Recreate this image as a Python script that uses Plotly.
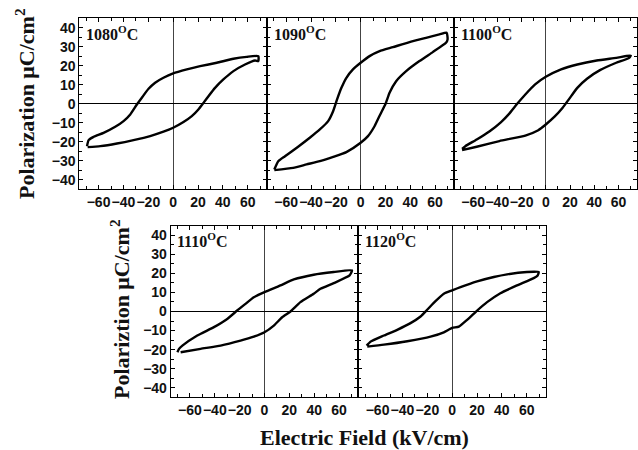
import plotly.graph_objects as go

# ---- data (E in kV/cm, P in uC/cm^2); each loop = ascending branch then descending branch
labels = ["1080", "1090", "1100", "1110", "1120"]

e1080_lo = [-68.8, -58.6, -45.2, -31.9, -18.5, -7.8, 0, 8.3, 15, 20.3, 24.4, 28.4, 33.7, 40.4, 48.5, 57.8, 65.9, 68.5]
p1080_lo = [-22.8, -22.3, -20.9, -19.1, -17, -14.7, -12.6, -9.6, -6.5, -3, 0.5, 4, 8.4, 12.8, 17.2, 20.7, 22.8, 22.5]
e1080_up = [68.5, 59.2, 48.5, 35.1, 21.7, 11, 0, -7.8, -14.5, -19.8, -25.2, -29.2, -34.5, -39.9, -46.6, -56, -64, -68, -69.3]
p1080_up = [25.1, 24.7, 23.7, 21.6, 19.8, 18.1, 16, 13.7, 11.1, 7.9, 3.2, -0.4, -5.6, -9.1, -12.1, -15.3, -17.4, -19.1, -22.3]

e1090_lo = [-69.6, -54.4, -43.6, -32.9, -21.5, -11.5, 0, 5.9, 11.2, 15.8, 20.1, 23.3, 28.6, 36.7, 47.4, 58.1, 68.8, 70.1]
p1090_lo = [-34.9, -33.7, -31.9, -30.2, -27.8, -25.4, -20.5, -17, -11.8, -5.6, 0, 5.8, 11.9, 17.2, 22.5, 27.2, 32.1, 33.9]
e1090_up = [69.3, 63.5, 52.7, 39.4, 26, 15.3, 7.2, 0, -6.2, -11.5, -15.5, -19, -22.2, -26.2, -32.9, -41, -50.4, -61, -66.4, -69.6]
p1090_up = [37.4, 36.5, 34.7, 32.5, 29.8, 27.7, 25.1, 21.6, 18.1, 13.7, 8.4, 2.3, -3.9, -9.1, -13.5, -17.9, -22.6, -27.6, -30.2, -34.6]

e1100_lo = [-69.1, -57, -38.3, -16.9, -6.2, 0, 7.2, 13.9, 19.3, 26, 34, 44.7, 58.1, 68.8]
p1100_lo = [-24.4, -22.6, -19.6, -16.7, -13.9, -10.9, -6.8, -2.1, 2.6, 8.4, 13.2, 17.7, 21.6, 24.2]
e1100_up = [70.1, 58.1, 42, 26, 12.6, 0, -8.8, -16.9, -23.6, -30.3, -36.9, -46.3, -57, -66.4, -69.1]
p1100_up = [25.4, 24.2, 22.8, 20.7, 18.1, 14.2, 10.2, 4.9, 0, -5.3, -9.6, -14.4, -18.8, -22.3, -23.7]

e1110_lo = [-67.5, -51.4, -35.3, -19.3, -8.6, 0, 7.5, 14.2, 20.9, 28.9, 39.6, 45, 55.7, 68.5]
p1110_lo = [-21.4, -19.6, -17.9, -15.3, -13.2, -10.9, -7.4, -3, 0, 4.9, 9.3, 11.9, 14.9, 18.9]
e1110_up = [70.4, 55.7, 39.6, 23.6, 12.9, 0, -8.6, -15.3, -22, -30, -40.7, -54.1, -66.1, -68.8, -70.1]
p1110_up = [21.6, 20.7, 19.3, 16.8, 13.7, 10.2, 7.5, 4, 0.5, -3.9, -8.2, -12.6, -17.9, -19.6, -21.4]

e1120_lo = [-68.3, -54.9, -36.1, -17.4, -6.7, 0, 5.4, 12, 20.1, 28.1, 38.8, 52.2, 65.6, 68.8]
p1120_lo = [-18.4, -17.4, -15.6, -13.2, -10.9, -8.6, -7.9, -4.4, 0.5, 4.9, 9.6, 13.7, 17.5, 18.9]
e1120_up = [69.6, 60.2, 44.2, 33.5, 20.1, 6.7, 0, -6.7, -13.4, -20.1, -25.4, -33.5, -44.2, -54.9, -65.6, -68.8]
p1120_up = [20.7, 20.7, 19.5, 18.1, 15.8, 12.8, 11.1, 9.3, 5.4, 0.9, -2.6, -6.1, -9.6, -12.6, -15.8, -17.9]

loops = [
    (e1080_lo + e1080_up, p1080_lo + p1080_up),
    (e1090_lo + e1090_up, p1090_lo + p1090_up),
    (e1100_lo + e1100_up, p1100_lo + p1100_up),
    (e1110_lo + e1110_up, p1110_lo + p1110_up),
    (e1120_lo + e1120_up, p1120_lo + p1120_up),
]

x_ticks = [-60, -40, -20, 0, 20, 40, 60]
y_ticks = [-40, -30, -20, -10, 0, 10, 20, 30, 40]

W, H = 638, 450
# panel boxes in pixels: (left, right, top, bottom)
boxes = [
    (79.3, 267.0, 18.3, 189.3),
    (267.0, 454.3, 18.3, 189.3),
    (454.3, 637.3, 18.3, 189.3),
    (170.7, 358.3, 225.7, 397.3),
    (358.3, 546.0, 225.7, 397.3),
]

fig = go.Figure()
tickfont = dict(family="Liberation Sans", size=14, color="#111", weight="bold")
layout = dict(
    width=W, height=H, margin=dict(l=0, r=0, t=0, b=0),
    paper_bgcolor="white", plot_bgcolor="white", showlegend=False,
)
for i, ((ex, py), (l, r, t, b)) in enumerate(zip(loops, boxes)):
    n = "" if i == 0 else str(i + 1)
    fig.add_trace(go.Scatter(
        x=ex, y=py, mode="lines", xaxis="x" + n, yaxis="y" + n,
        line=dict(color="black", width=2.4, shape="spline", smoothing=0.5),
        hoverinfo="skip",
    ))
    layout["xaxis" + n] = dict(
        domain=[l / W, r / W], anchor="y" + n, range=[-75.5, 75.5],
        tickvals=x_ticks, tickangle=0, ticks="inside", ticklen=4, tickcolor="black",
        minor=dict(dtick=10, tick0=0, ticks="inside", ticklen=3, tickcolor="black"),
        showline=True, mirror="ticks", linecolor="black", linewidth=1,
        showgrid=False, zeroline=True, zerolinecolor="#444", zerolinewidth=1.2,
        tickfont=tickfont, fixedrange=True,
    )
    layout["yaxis" + n] = dict(
        domain=[1 - b / H, 1 - t / H], anchor="x" + n, range=[-45, 45],
        tickvals=y_ticks, ticks="inside", ticklen=4, tickcolor="black",
        minor=dict(dtick=5, tick0=0, ticks="inside", ticklen=3, tickcolor="black"),
        showline=True, mirror="ticks", linecolor="black", linewidth=1,
        showgrid=False, zeroline=True, zerolinecolor="black", zerolinewidth=1,
        showticklabels=(i in (0, 3)), tickfont=tickfont, fixedrange=True,
    )

fig.update_layout(**layout)

ann = []
serif = dict(family="Liberation Serif", color="#111", weight="bold")
for i, lab in enumerate(labels):
    n = "" if i == 0 else str(i + 1)
    ann.append(dict(
        text=lab + "<sup>O</sup>C", xref="x" + n + " domain", yref="y" + n + " domain",
        x=0.025, y=0.985, xanchor="left", yanchor="top", showarrow=False,
        font=dict(size=16, **serif),
    ))
ann.append(dict(text="Polarization μC/cm<sup>2</sup>", xref="paper", yref="paper",
                x=25 / W, y=1 - 104 / H, xanchor="center", yanchor="middle",
                textangle=-90, showarrow=False, font=dict(size=22, **serif)))
ann.append(dict(text="Polariztion μC/cm<sup>2</sup>", xref="paper", yref="paper",
                x=120 / W, y=1 - 309 / H, xanchor="center", yanchor="middle",
                textangle=-90, showarrow=False, font=dict(size=22, **serif)))
ann.append(dict(text="Electric Field (kV/cm)", xref="paper", yref="paper",
                x=364 / W, y=1 - 437 / H, xanchor="center", yanchor="middle",
                showarrow=False, font=dict(size=22, **serif)))
fig.update_layout(annotations=ann)

fig.write_html("out.html", config={"displayModeBar": False},
               post_script="document.body.style.margin='0px';")
